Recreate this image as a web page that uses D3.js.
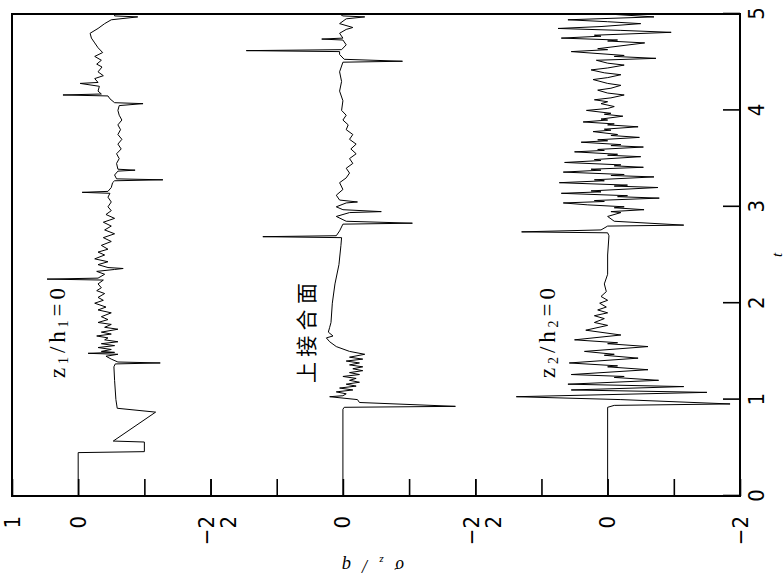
<!DOCTYPE html>
<html><head><meta charset="utf-8">
<script src="https://cdn.jsdelivr.net/npm/d3@7"></script>
<style>body{margin:0;background:#fff}</style>
</head><body>
<svg id="c" width="784" height="581"></svg>
<script>
// ---- data ----
const tTicks = [0, 1, 2, 3, 4, 5];
const panelDomains = [[-2, 1], [-2, 2], [-2, 2]];
const panelTickValues = [[1, 0, -1, -2], [2, 1, 0, -1, -2], [2, 1, 0, -1, -2]];
const panelTickLabels = [[1, 0, -2], [2, 0, -2], [2, 0, -2]];
const xLabel = "t";

// series A : z1/h1 = 0
const tA = [0,0.45,0.46,0.56,0.57,0.87,0.91,1.0,1.2,1.34,1.37,1.38,1.39,1.42,1.45,1.47,1.48,1.49,1.5,1.52,1.54,1.56,1.58,1.6,1.62,1.64,1.66,1.68,1.7,1.73,1.75,1.78,1.8,1.83,1.86,1.9,1.93,1.96,2.0,2.03,2.06,2.1,2.13,2.16,2.2,2.24,2.25,2.26,2.3,2.33,2.35,2.36,2.37,2.4,2.43,2.46,2.5,2.53,2.56,2.6,2.64,2.68,2.72,2.76,2.8,2.84,2.88,2.92,2.96,3.0,3.05,3.1,3.14,3.15,3.16,3.2,3.25,3.27,3.28,3.29,3.33,3.37,3.38,3.39,3.45,3.5,3.55,3.6,3.65,3.7,3.75,3.8,3.85,3.9,3.95,4.0,4.05,4.07,4.08,4.12,4.15,4.16,4.17,4.2,4.25,4.28,4.29,4.33,4.36,4.4,4.45,4.48,4.52,4.56,4.6,4.65,4.7,4.75,4.8,4.85,4.9,4.94,4.97,4.98,5.0];
const vA = [0,0,-1.0,-1.0,-0.53,-1.17,-0.59,-0.57,-0.55,-0.54,-0.56,-1.24,-0.6,-0.5,-0.42,-0.6,-0.15,-0.55,-0.35,-0.5,-0.3,-0.55,-0.35,-0.6,-0.4,-0.45,-0.28,-0.5,-0.35,-0.6,-0.4,-0.5,-0.3,-0.45,-0.35,-0.5,-0.3,-0.42,-0.25,-0.38,-0.3,-0.4,-0.28,-0.35,-0.3,-0.38,0.47,-0.3,-0.4,-0.28,-0.55,-0.68,-0.45,-0.3,-0.45,-0.25,-0.4,-0.3,-0.45,-0.35,-0.5,-0.38,-0.55,-0.4,-0.5,-0.38,-0.55,-0.42,-0.5,-0.45,-0.5,-0.45,-0.48,-0.06,-0.45,-0.5,-0.52,-0.55,-1.28,-0.58,-0.55,-0.6,-0.86,-0.6,-0.58,-0.62,-0.58,-0.65,-0.6,-0.66,-0.6,-0.64,-0.6,-0.66,-0.62,-0.6,-0.62,-0.98,-0.55,-0.48,-0.45,0.23,-0.35,-0.3,-0.32,-0.03,-0.3,-0.25,-0.38,-0.3,-0.36,-0.28,-0.35,-0.25,-0.37,-0.3,-0.25,-0.2,-0.18,-0.3,-0.4,-0.5,-0.9,-0.55,-0.55];

// series B : upper interface
const tB = [0,0.9,0.92,0.93,0.97,1.0,1.03,1.04,1.06,1.08,1.1,1.12,1.14,1.16,1.18,1.2,1.22,1.24,1.26,1.28,1.3,1.32,1.34,1.36,1.38,1.4,1.42,1.44,1.47,1.5,1.55,1.6,1.64,1.66,1.7,1.75,1.8,2.0,2.2,2.4,2.6,2.68,2.69,2.7,2.75,2.82,2.83,2.85,2.9,2.94,2.95,2.97,3.0,3.04,3.05,3.07,3.12,3.18,3.25,3.3,3.35,3.4,3.45,3.5,3.55,3.6,3.65,3.7,3.75,3.8,3.85,3.9,3.95,4.0,4.1,4.2,4.3,4.4,4.5,4.51,4.53,4.58,4.61,4.62,4.63,4.68,4.73,4.74,4.75,4.8,4.84,4.86,4.9,4.95,4.97,4.98,5.0];
const vB = [0,0,-0.02,-1.7,-0.25,-0.22,0.2,0.0,-0.05,0.1,-0.15,0.05,-0.2,-0.05,-0.25,-0.1,-0.2,0.0,-0.25,-0.1,-0.3,-0.15,-0.3,-0.1,-0.25,-0.05,-0.3,-0.1,-0.33,-0.1,0.1,0.2,0.25,0.15,0.22,0.2,0.18,0.16,0.12,0.06,0.03,0.02,1.21,0.1,0.05,0.0,-1.05,-0.05,0.1,-0.1,-0.58,0.0,0.1,-0.05,-0.22,0.05,0.1,0.0,0.05,-0.05,-0.1,-0.05,-0.15,-0.1,-0.2,-0.12,-0.2,-0.1,-0.15,-0.05,-0.08,0.0,-0.05,0.02,0.0,0.05,0.02,0.05,0.0,-0.9,-0.02,0.05,0.05,1.46,0.02,-0.05,0.0,0.32,0.0,0.05,-0.05,-0.15,0.05,-0.05,-0.33,0.0,0.05];

// series C : z2/h2 = 0
const tC = [0,0.92,0.94,0.955,1.0,1.03,1.075,1.1,1.135,1.16,1.2,1.23,1.24,1.26,1.31,1.34,1.35,1.38,1.43,1.46,1.47,1.5,1.55,1.58,1.59,1.62,1.67,1.72,1.77,1.8,1.84,1.87,1.9,1.93,1.96,2.0,2.03,2.07,2.12,2.2,2.3,2.5,2.7,2.73,2.74,2.76,2.8,2.81,2.85,2.9,2.94,2.95,2.97,2.99,3.0,3.02,3.04,3.055,3.065,3.09,3.105,3.115,3.14,3.155,3.165,3.2,3.215,3.225,3.25,3.27,3.28,3.31,3.325,3.335,3.36,3.38,3.39,3.41,3.425,3.435,3.46,3.48,3.49,3.52,3.535,3.545,3.57,3.585,3.595,3.62,3.635,3.645,3.67,3.685,3.695,3.72,3.74,3.75,3.78,3.795,3.805,3.83,3.85,3.86,3.88,3.9,3.91,3.94,3.96,3.97,4.0,4.02,4.04,4.07,4.09,4.11,4.13,4.16,4.18,4.21,4.23,4.26,4.28,4.32,4.34,4.37,4.39,4.42,4.44,4.47,4.49,4.52,4.54,4.56,4.57,4.61,4.63,4.64,4.7,4.72,4.73,4.75,4.77,4.78,4.81,4.83,4.85,4.87,4.9,4.92,4.94,4.97,5.0];
const vC = [0,0,-0.1,-1.85,-0.2,1.38,-1.5,0.55,-1.15,0.6,-0.77,-0.1,-0.25,0.55,-0.61,0.0,-0.15,0.58,-0.46,0.05,-0.1,0.35,-0.61,0.0,-0.15,0.5,-0.2,0.33,0.0,0.2,0.05,0.2,0.0,0.15,0.02,0.12,0.0,0.1,0.02,0.05,0.0,0.0,-0.02,0.0,1.3,0.1,0.0,-1.15,-0.1,0.0,-0.2,-0.05,-0.55,-0.1,-0.25,0.3,0.67,0.05,0.2,-0.78,-0.15,-0.3,0.7,0.1,0.25,-0.76,-0.1,-0.3,0.73,0.05,0.2,-0.7,-0.05,-0.25,0.67,0.1,0.25,-0.54,-0.1,-0.2,0.65,0.1,0.2,-0.5,0.0,-0.15,0.5,0.05,0.15,-0.54,-0.05,-0.2,0.4,0.0,0.15,-0.48,-0.05,-0.15,0.22,-0.05,0.05,-0.46,0.0,-0.1,0.37,0.0,0.1,-0.23,0.05,-0.05,0.32,0.0,-0.1,0.1,0.0,0.2,-0.05,-0.25,0.0,0.15,-0.05,-0.2,0.0,0.22,0.0,-0.2,0.05,0.25,0.0,-0.25,0.0,0.17,-0.73,-0.1,-0.25,0.55,0.0,0.15,-0.56,0.0,-0.15,0.7,0.1,0.2,-0.96,-0.2,0.75,0.1,-0.5,0.0,0.6,-0.7,0.0];

// ---- drawing ----
const W = 482, H = 728;
const svg = d3.select("#c");
const g = svg.append("g").attr("transform", "translate(12,496) rotate(-90)");
const x = d3.scaleLinear().domain([0, 5]).range([0, W]);
const unit = H / d3.sum(panelDomains, d => d[1] - d[0]);
let off = 0;
const yScales = panelDomains.map(d => {
  const h = (d[1] - d[0]) * unit;
  const s = d3.scaleLinear().domain(d).range([off + h, off]);
  off += h;
  return s;
});

const series = [[tA, vA], [tB, vB], [tC, vC]];
series.forEach(([ts, vs], i) => {
  const pts = ts.map((t, k) => [t, vs[k]]);
  g.append("path")
    .attr("d", d3.line().x(d => x(d[0])).y(d => yScales[i](d[1]))(pts))
    .attr("fill", "none").attr("stroke", "#000").attr("stroke-width", 1);
});

const numFont = "'Liberation Sans Narrow','DejaVu Sans Condensed','Liberation Sans',Arial,sans-serif";
const fmt = d3.format("d");

// t axis
const xa = g.append("g").attr("transform", `translate(0,${H})`)
  .call(d3.axisBottom(x).tickValues(tTicks).tickFormat(fmt).tickSizeInner(-17).tickSizeOuter(0).tickPadding(8));
xa.select(".domain").remove();
xa.selectAll("line").attr("stroke", "#000").attr("stroke-width", 1.6);
xa.selectAll("text").attr("font-size", 22).attr("font-family", numFont).attr("fill", "#000");

// value axes
yScales.forEach((s, i) => {
  const ax = g.append("g")
    .call(d3.axisLeft(s).tickValues(panelTickValues[i]).tickSizeInner(-17).tickSizeOuter(0).tickPadding(20)
      .tickFormat(v => panelTickLabels[i].includes(v) ? fmt(v) : ""));
  ax.select(".domain").remove();
  ax.selectAll("line").attr("stroke", "#000").attr("stroke-width", 1.6);
  const dom = panelDomains[i];
  ax.selectAll("text").attr("font-size", 22).attr("font-family", numFont).attr("fill", "#000")
    .attr("transform", v => {
      if (v === dom[1] && i > 0) return "translate(0,18)";
      if (v === dom[0] && i < panelDomains.length - 1) return "translate(0,-4)";
      return null;
    });
});

// frame
g.append("rect").attr("x", 0).attr("y", 0).attr("width", W).attr("height", H)
  .attr("fill", "none").attr("stroke", "#000").attr("stroke-width", 2);

// axis titles
g.append("text").attr("x", x(2.5)).attr("y", H + 42).attr("text-anchor", "middle")
  .attr("font-family", "'Liberation Serif','DejaVu Serif',serif").attr("font-style", "italic")
  .attr("font-size", 15).text(xLabel);

const yl = g.append("text").attr("transform", `translate(-64,${yScales[1](0) + 30}) rotate(-90)`)
  .attr("text-anchor", "middle").attr("font-family", "'Liberation Serif','DejaVu Serif',serif")
  .attr("font-style", "italic").attr("font-size", 18)
  .attr("textLength", 62).attr("lengthAdjust", "spacing");
yl.append("tspan").text("σ");
yl.append("tspan").attr("font-size", 11).attr("dy", 3).text("z");
yl.append("tspan").attr("dy", -3).text("/q");

// panel annotations
function subLabel(b, parts) {
  const t = g.append("text").attr("x", x(1.69)).attr("y", b)
    .attr("text-anchor", "middle").attr("dominant-baseline", "central")
    .attr("font-family", "'Liberation Serif','DejaVu Serif',serif").attr("font-size", 23)
    .attr("textLength", 90).attr("lengthAdjust", "spacing");
  parts.forEach(p => {
    const ts = t.append("tspan").text(p[0]);
    if (p[1]) ts.attr("font-size", 14).attr("dy", p[1]);
    if (p[2]) ts.attr("dy", p[2]);
  });
}
subLabel(45, [["z"], ["1", 6], ["/h", 0, -6], ["1", 6], ["=0", 0, -6]]);
subLabel(535, [["z"], ["2", 6], ["/h", 0, -6], ["2", 6], ["=0", 0, -6]]);
g.append("text").attr("x", x(1.69)).attr("y", 293)
  .attr("text-anchor", "middle").attr("dominant-baseline", "central")
  .attr("font-family", "'Noto Sans CJK SC',sans-serif").attr("font-size", 21)
  .attr("textLength", 100).attr("lengthAdjust", "spacing").text("上接合面");
</script>
</body></html>
